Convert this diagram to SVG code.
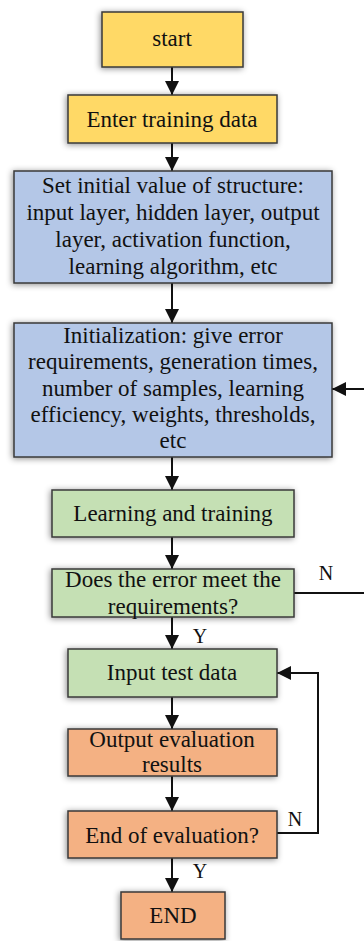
<svg xmlns="http://www.w3.org/2000/svg" width="364" height="941" viewBox="0 0 364 941">
<style>
.box{stroke:#3a3a3a;stroke-width:1.5;filter:url(#sh)}
.y{fill:#FFD966}.b{fill:#B4C7E7}.g{fill:#C5E0B4}.o{fill:#F4B183}
text{font-family:'Liberation Serif','DejaVu Serif',serif;font-size:23px;fill:#111;text-anchor:middle}
.lbl{font-size:20px}
.c{fill:none;stroke:#111;stroke-width:2}
</style>
<defs>
<filter id="sh" x="-20%" y="-30%" width="140%" height="160%">
<feDropShadow dx="-1" dy="1" stdDeviation="3" flood-color="#000" flood-opacity="0.45"/>
</filter>
<marker id="ah" markerWidth="14" markerHeight="15" refX="14" refY="7" orient="auto" markerUnits="userSpaceOnUse">
<path d="M0,0 L14,7 L0,14 z" fill="#111"/>
</marker>
</defs>
<g id="connectors">
<path class="c" d="M172,67 V95" marker-end="url(#ah)"/>
<path class="c" d="M172,143 V171" marker-end="url(#ah)"/>
<path class="c" d="M172,283 V323" marker-end="url(#ah)"/>
<path class="c" d="M172,457 V490" marker-end="url(#ah)"/>
<path class="c" d="M172,537 V569" marker-end="url(#ah)"/>
<path class="c" d="M172,617 V649" marker-end="url(#ah)"/>
<path class="c" d="M172,697 V729" marker-end="url(#ah)"/>
<path class="c" d="M172,776 V811" marker-end="url(#ah)"/>
<path class="c" d="M172,858 V892" marker-end="url(#ah)"/>
<path class="c" d="M294,593 H367 V389 H332" marker-end="url(#ah)"/>
<path class="c" d="M277,833 H318 V673 H277" marker-end="url(#ah)"/>
<text class="lbl" x="326" y="580">N</text>
<text class="lbl" x="200" y="643">Y</text>
<text class="lbl" x="295" y="826">N</text>
<text class="lbl" x="200" y="878">Y</text>
</g>
<g id="start"><rect class="box y" x="102" y="12" width="141" height="55"/><text x="172" y="46">start</text></g>
<g id="enter"><rect class="box y" x="68" y="95" width="209" height="48"/><text x="172" y="127">Enter training data</text></g>
<g id="setinit"><rect class="box b" x="14" y="171" width="318" height="112"/>
<text x="173" y="193">Set initial value of structure:</text>
<text x="173" y="220">input layer, hidden layer, output</text>
<text x="173" y="247">layer, activation function,</text>
<text x="173" y="274">learning algorithm, etc</text></g>
<g id="init"><rect class="box b" x="14" y="323" width="318" height="134"/>
<text x="173" y="343">Initialization: give error</text>
<text x="173" y="369">requirements, generation times,</text>
<text x="173" y="396">number of samples, learning</text>
<text x="173" y="422">efficiency, weights, thresholds,</text>
<text x="173" y="448">etc</text></g>
<g id="learn"><rect class="box g" x="52" y="490" width="242" height="47"/><text x="173" y="521">Learning and training</text></g>
<g id="check"><rect class="box g" x="52" y="569" width="242" height="48"/>
<text x="173" y="587">Does the error meet the</text>
<text x="173" y="614">requirements?</text></g>
<g id="input"><rect class="box g" x="68" y="649" width="209" height="48"/><text x="172" y="680">Input test data</text></g>
<g id="output"><rect class="box o" x="68" y="729" width="209" height="47"/>
<text x="172" y="747">Output evaluation</text>
<text x="172" y="772">results</text></g>
<g id="endq"><rect class="box o" x="68" y="811" width="209" height="47"/><text x="172" y="843">End of evaluation?</text></g>
<g id="end"><rect class="box o" x="121" y="892" width="104" height="47"/><text x="173" y="923">END</text></g>
</svg>
